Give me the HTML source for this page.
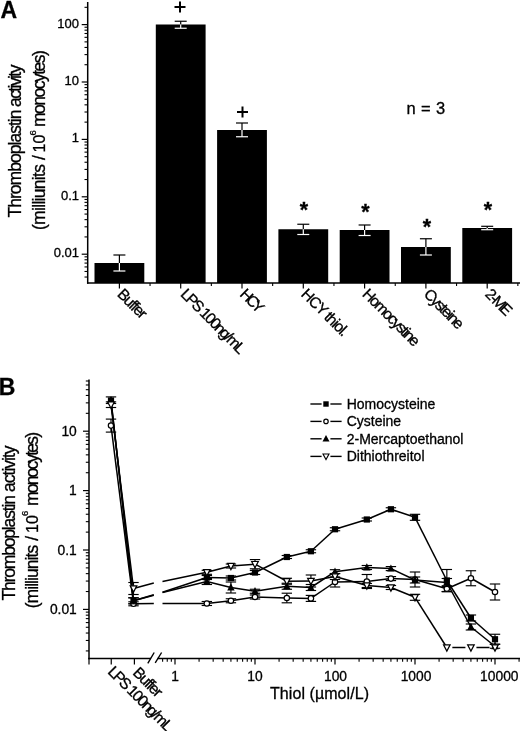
<!DOCTYPE html>
<html><head><meta charset="utf-8"><title>Thromboplastin activity</title>
<style>html,body{margin:0;padding:0;background:#fff}svg{display:block}text{font-family:"Liberation Sans",sans-serif;fill:#000;stroke:#000;stroke-width:0.3px}</style>
</head><body>
<svg width="520" height="731" viewBox="0 0 520 731">
<rect width="520" height="731" fill="#fff"/>
<line x1="87.70" y1="2.00" x2="87.70" y2="283.65" stroke="#000" stroke-width="1.5" />
<line x1="87.05" y1="283.00" x2="520.00" y2="283.00" stroke="#000" stroke-width="1.5" />
<line x1="84.50" y1="277.04" x2="87.70" y2="277.04" stroke="#000" stroke-width="1.1" />
<line x1="84.50" y1="271.48" x2="87.70" y2="271.48" stroke="#000" stroke-width="1.1" />
<line x1="84.50" y1="266.93" x2="87.70" y2="266.93" stroke="#000" stroke-width="1.1" />
<line x1="84.50" y1="263.09" x2="87.70" y2="263.09" stroke="#000" stroke-width="1.1" />
<line x1="84.50" y1="259.76" x2="87.70" y2="259.76" stroke="#000" stroke-width="1.1" />
<line x1="84.50" y1="256.83" x2="87.70" y2="256.83" stroke="#000" stroke-width="1.1" />
<line x1="81.70" y1="254.20" x2="87.70" y2="254.20" stroke="#000" stroke-width="1.2" />
<line x1="84.50" y1="236.92" x2="87.70" y2="236.92" stroke="#000" stroke-width="1.1" />
<line x1="84.50" y1="226.81" x2="87.70" y2="226.81" stroke="#000" stroke-width="1.1" />
<line x1="84.50" y1="219.64" x2="87.70" y2="219.64" stroke="#000" stroke-width="1.1" />
<line x1="84.50" y1="214.08" x2="87.70" y2="214.08" stroke="#000" stroke-width="1.1" />
<line x1="84.50" y1="209.53" x2="87.70" y2="209.53" stroke="#000" stroke-width="1.1" />
<line x1="84.50" y1="205.69" x2="87.70" y2="205.69" stroke="#000" stroke-width="1.1" />
<line x1="84.50" y1="202.36" x2="87.70" y2="202.36" stroke="#000" stroke-width="1.1" />
<line x1="84.50" y1="199.43" x2="87.70" y2="199.43" stroke="#000" stroke-width="1.1" />
<line x1="81.70" y1="196.80" x2="87.70" y2="196.80" stroke="#000" stroke-width="1.2" />
<line x1="84.50" y1="179.52" x2="87.70" y2="179.52" stroke="#000" stroke-width="1.1" />
<line x1="84.50" y1="169.41" x2="87.70" y2="169.41" stroke="#000" stroke-width="1.1" />
<line x1="84.50" y1="162.24" x2="87.70" y2="162.24" stroke="#000" stroke-width="1.1" />
<line x1="84.50" y1="156.68" x2="87.70" y2="156.68" stroke="#000" stroke-width="1.1" />
<line x1="84.50" y1="152.13" x2="87.70" y2="152.13" stroke="#000" stroke-width="1.1" />
<line x1="84.50" y1="148.29" x2="87.70" y2="148.29" stroke="#000" stroke-width="1.1" />
<line x1="84.50" y1="144.96" x2="87.70" y2="144.96" stroke="#000" stroke-width="1.1" />
<line x1="84.50" y1="142.03" x2="87.70" y2="142.03" stroke="#000" stroke-width="1.1" />
<line x1="81.70" y1="139.40" x2="87.70" y2="139.40" stroke="#000" stroke-width="1.2" />
<line x1="84.50" y1="122.12" x2="87.70" y2="122.12" stroke="#000" stroke-width="1.1" />
<line x1="84.50" y1="112.01" x2="87.70" y2="112.01" stroke="#000" stroke-width="1.1" />
<line x1="84.50" y1="104.84" x2="87.70" y2="104.84" stroke="#000" stroke-width="1.1" />
<line x1="84.50" y1="99.28" x2="87.70" y2="99.28" stroke="#000" stroke-width="1.1" />
<line x1="84.50" y1="94.73" x2="87.70" y2="94.73" stroke="#000" stroke-width="1.1" />
<line x1="84.50" y1="90.89" x2="87.70" y2="90.89" stroke="#000" stroke-width="1.1" />
<line x1="84.50" y1="87.56" x2="87.70" y2="87.56" stroke="#000" stroke-width="1.1" />
<line x1="84.50" y1="84.63" x2="87.70" y2="84.63" stroke="#000" stroke-width="1.1" />
<line x1="81.70" y1="82.00" x2="87.70" y2="82.00" stroke="#000" stroke-width="1.2" />
<line x1="84.50" y1="64.72" x2="87.70" y2="64.72" stroke="#000" stroke-width="1.1" />
<line x1="84.50" y1="54.61" x2="87.70" y2="54.61" stroke="#000" stroke-width="1.1" />
<line x1="84.50" y1="47.44" x2="87.70" y2="47.44" stroke="#000" stroke-width="1.1" />
<line x1="84.50" y1="41.88" x2="87.70" y2="41.88" stroke="#000" stroke-width="1.1" />
<line x1="84.50" y1="37.33" x2="87.70" y2="37.33" stroke="#000" stroke-width="1.1" />
<line x1="84.50" y1="33.49" x2="87.70" y2="33.49" stroke="#000" stroke-width="1.1" />
<line x1="84.50" y1="30.16" x2="87.70" y2="30.16" stroke="#000" stroke-width="1.1" />
<line x1="84.50" y1="27.23" x2="87.70" y2="27.23" stroke="#000" stroke-width="1.1" />
<line x1="81.70" y1="24.60" x2="87.70" y2="24.60" stroke="#000" stroke-width="1.2" />
<line x1="84.50" y1="7.32" x2="87.70" y2="7.32" stroke="#000" stroke-width="1.1" />
<text x="79.00" y="27.60" font-size="13" text-anchor="end" >100</text>
<text x="79.00" y="85.00" font-size="13" text-anchor="end" >10</text>
<text x="79.00" y="142.40" font-size="13" text-anchor="end" >1</text>
<text x="79.00" y="199.80" font-size="13" text-anchor="end" >0.1</text>
<text x="79.00" y="257.20" font-size="13" text-anchor="end" >0.01</text>
<rect x="94.50" y="263.00" width="49.8" height="20.00" fill="#000"/>
<line x1="119.40" y1="255.00" x2="119.40" y2="263.00" stroke="#000" stroke-width="1.2" />
<line x1="113.40" y1="255.00" x2="125.40" y2="255.00" stroke="#000" stroke-width="1.2" />
<line x1="119.40" y1="263.00" x2="119.40" y2="271.00" stroke="#fff" stroke-width="1.2" />
<line x1="113.40" y1="271.00" x2="125.40" y2="271.00" stroke="#fff" stroke-width="1.2" />
<line x1="119.40" y1="283.00" x2="119.40" y2="288.50" stroke="#000" stroke-width="1.2" />
<line x1="150.05" y1="283.00" x2="150.05" y2="286.00" stroke="#000" stroke-width="1.1" />
<text x="116.40" y="295.00" font-size="15.5" text-anchor="start" transform="rotate(45 116.40 295.00)" textLength="35" lengthAdjust="spacing" >Buffer</text>
<rect x="155.80" y="24.50" width="49.8" height="258.50" fill="#000"/>
<line x1="180.70" y1="21.25" x2="180.70" y2="24.50" stroke="#000" stroke-width="1.2" />
<line x1="174.70" y1="21.25" x2="186.70" y2="21.25" stroke="#000" stroke-width="1.2" />
<line x1="180.70" y1="24.50" x2="180.70" y2="28.25" stroke="#fff" stroke-width="1.2" />
<line x1="174.70" y1="28.25" x2="186.70" y2="28.25" stroke="#fff" stroke-width="1.2" />
<line x1="180.70" y1="283.00" x2="180.70" y2="288.50" stroke="#000" stroke-width="1.2" />
<line x1="211.35" y1="283.00" x2="211.35" y2="286.00" stroke="#000" stroke-width="1.1" />
<text x="179.70" y="295.00" font-size="15.5" text-anchor="start" transform="rotate(45 179.70 295.00)" textLength="84.5" lengthAdjust="spacing" >LPS 100ng/mL</text>
<rect x="217.10" y="130.00" width="49.8" height="153.00" fill="#000"/>
<line x1="242.00" y1="123.00" x2="242.00" y2="130.00" stroke="#000" stroke-width="1.2" />
<line x1="236.00" y1="123.00" x2="248.00" y2="123.00" stroke="#000" stroke-width="1.2" />
<line x1="242.00" y1="130.00" x2="242.00" y2="136.75" stroke="#fff" stroke-width="1.2" />
<line x1="236.00" y1="136.75" x2="248.00" y2="136.75" stroke="#fff" stroke-width="1.2" />
<line x1="242.00" y1="283.00" x2="242.00" y2="288.50" stroke="#000" stroke-width="1.2" />
<line x1="272.65" y1="283.00" x2="272.65" y2="286.00" stroke="#000" stroke-width="1.1" />
<text x="239.00" y="295.00" font-size="15.5" text-anchor="start" transform="rotate(45 239.00 295.00)" textLength="27" lengthAdjust="spacing" >HCY</text>
<rect x="278.40" y="229.25" width="49.8" height="53.75" fill="#000"/>
<line x1="303.30" y1="224.25" x2="303.30" y2="229.25" stroke="#000" stroke-width="1.2" />
<line x1="297.30" y1="224.25" x2="309.30" y2="224.25" stroke="#000" stroke-width="1.2" />
<line x1="303.30" y1="229.25" x2="303.30" y2="234.50" stroke="#fff" stroke-width="1.2" />
<line x1="297.30" y1="234.50" x2="309.30" y2="234.50" stroke="#fff" stroke-width="1.2" />
<line x1="303.30" y1="283.00" x2="303.30" y2="288.50" stroke="#000" stroke-width="1.2" />
<line x1="333.95" y1="283.00" x2="333.95" y2="286.00" stroke="#000" stroke-width="1.1" />
<text x="300.30" y="295.00" font-size="15.5" text-anchor="start" transform="rotate(45 300.30 295.00)" textLength="60" lengthAdjust="spacing" >HCY thiol.</text>
<rect x="339.70" y="230.00" width="49.8" height="53.00" fill="#000"/>
<line x1="364.60" y1="225.00" x2="364.60" y2="230.00" stroke="#000" stroke-width="1.2" />
<line x1="358.60" y1="225.00" x2="370.60" y2="225.00" stroke="#000" stroke-width="1.2" />
<line x1="364.60" y1="230.00" x2="364.60" y2="235.50" stroke="#fff" stroke-width="1.2" />
<line x1="358.60" y1="235.50" x2="370.60" y2="235.50" stroke="#fff" stroke-width="1.2" />
<line x1="364.60" y1="283.00" x2="364.60" y2="288.50" stroke="#000" stroke-width="1.2" />
<line x1="395.25" y1="283.00" x2="395.25" y2="286.00" stroke="#000" stroke-width="1.1" />
<text x="361.60" y="295.00" font-size="15.5" text-anchor="start" transform="rotate(45 361.60 295.00)" textLength="74" lengthAdjust="spacing" >Homocystine</text>
<rect x="401.00" y="247.00" width="49.8" height="36.00" fill="#000"/>
<line x1="425.90" y1="238.75" x2="425.90" y2="247.00" stroke="#000" stroke-width="1.2" />
<line x1="419.90" y1="238.75" x2="431.90" y2="238.75" stroke="#000" stroke-width="1.2" />
<line x1="425.90" y1="247.00" x2="425.90" y2="255.00" stroke="#fff" stroke-width="1.2" />
<line x1="419.90" y1="255.00" x2="431.90" y2="255.00" stroke="#fff" stroke-width="1.2" />
<line x1="425.90" y1="283.00" x2="425.90" y2="288.50" stroke="#000" stroke-width="1.2" />
<line x1="456.55" y1="283.00" x2="456.55" y2="286.00" stroke="#000" stroke-width="1.1" />
<text x="422.90" y="295.00" font-size="15.5" text-anchor="start" transform="rotate(45 422.90 295.00)" textLength="49.5" lengthAdjust="spacing" >Cysteine</text>
<rect x="462.30" y="228.00" width="49.8" height="55.00" fill="#000"/>
<line x1="487.20" y1="226.30" x2="487.20" y2="228.00" stroke="#000" stroke-width="1.2" />
<line x1="481.20" y1="226.30" x2="493.20" y2="226.30" stroke="#000" stroke-width="1.2" />
<line x1="487.20" y1="228.00" x2="487.20" y2="229.70" stroke="#fff" stroke-width="1.2" />
<line x1="481.20" y1="229.70" x2="493.20" y2="229.70" stroke="#fff" stroke-width="1.2" />
<line x1="487.20" y1="283.00" x2="487.20" y2="288.50" stroke="#000" stroke-width="1.2" />
<line x1="517.85" y1="283.00" x2="517.85" y2="286.00" stroke="#000" stroke-width="1.1" />
<text x="484.20" y="295.00" font-size="15.5" text-anchor="start" transform="rotate(45 484.20 295.00)" textLength="31" lengthAdjust="spacing" >2-ME</text>
<line x1="174.50" y1="7.00" x2="185.50" y2="7.00" stroke="#000" stroke-width="2" />
<line x1="180.00" y1="1.50" x2="180.00" y2="12.50" stroke="#000" stroke-width="2" />
<line x1="237.00" y1="112.00" x2="248.00" y2="112.00" stroke="#000" stroke-width="2" />
<line x1="242.50" y1="106.50" x2="242.50" y2="117.50" stroke="#000" stroke-width="2" />
<text x="304.00" y="216.70" font-size="21.5" text-anchor="middle" font-weight="bold" >*</text>
<text x="365.50" y="218.70" font-size="21.5" text-anchor="middle" font-weight="bold" >*</text>
<text x="427.00" y="233.70" font-size="21.5" text-anchor="middle" font-weight="bold" >*</text>
<text x="488.00" y="216.70" font-size="21.5" text-anchor="middle" font-weight="bold" >*</text>
<text x="406.50" y="114.40" font-size="16.5" text-anchor="start" textLength="38.6" lengthAdjust="spacing" >n = 3</text>
<text x="0.50" y="17.50" font-size="23" text-anchor="start" font-weight="bold" >A</text>
<text x="20.60" y="217.50" font-size="17.5" text-anchor="start" transform="rotate(-90 20.60 217.50)" textLength="108" lengthAdjust="spacing" >Thromboplastin</text>
<text x="20.60" y="107.00" font-size="17.5" text-anchor="start" transform="rotate(-90 20.60 107.00)" textLength="42.4" lengthAdjust="spacing" >activity</text>
<text x="45.00" y="230.00" font-size="17.5" text-anchor="start" transform="rotate(-90 45.00 230.00)" textLength="66" lengthAdjust="spacing" >(milliunits</text>
<text x="45.00" y="160.00" font-size="17.5" text-anchor="start" transform="rotate(-90 45.00 160.00)" >/</text>
<text x="45.00" y="152.50" font-size="16" text-anchor="start" transform="rotate(-90 45.00 152.50)" >10</text>
<text x="35.70" y="135.40" font-size="9.5" text-anchor="start" transform="rotate(-90 35.70 135.40)" >6</text>
<text x="45.00" y="127.00" font-size="17.5" text-anchor="start" transform="rotate(-90 45.00 127.00)" textLength="76.8" lengthAdjust="spacing" >monocytes)</text>
<line x1="89.00" y1="379.50" x2="89.00" y2="659.15" stroke="#000" stroke-width="1.5" />
<line x1="88.25" y1="658.50" x2="151.00" y2="658.50" stroke="#000" stroke-width="1.5" />
<line x1="157.50" y1="658.50" x2="520.00" y2="658.50" stroke="#000" stroke-width="1.5" />
<line x1="147.80" y1="663.30" x2="154.20" y2="652.50" stroke="#000" stroke-width="1.4" />
<line x1="155.20" y1="662.80" x2="161.60" y2="652.50" stroke="#000" stroke-width="1.4" />
<line x1="85.80" y1="650.92" x2="89.00" y2="650.92" stroke="#000" stroke-width="1.1" />
<line x1="85.80" y1="640.46" x2="89.00" y2="640.46" stroke="#000" stroke-width="1.1" />
<line x1="85.80" y1="633.04" x2="89.00" y2="633.04" stroke="#000" stroke-width="1.1" />
<line x1="85.80" y1="627.28" x2="89.00" y2="627.28" stroke="#000" stroke-width="1.1" />
<line x1="85.80" y1="622.58" x2="89.00" y2="622.58" stroke="#000" stroke-width="1.1" />
<line x1="85.80" y1="618.60" x2="89.00" y2="618.60" stroke="#000" stroke-width="1.1" />
<line x1="85.80" y1="615.16" x2="89.00" y2="615.16" stroke="#000" stroke-width="1.1" />
<line x1="85.80" y1="612.12" x2="89.00" y2="612.12" stroke="#000" stroke-width="1.1" />
<line x1="83.00" y1="609.40" x2="89.00" y2="609.40" stroke="#000" stroke-width="1.2" />
<line x1="85.80" y1="591.52" x2="89.00" y2="591.52" stroke="#000" stroke-width="1.1" />
<line x1="85.80" y1="581.06" x2="89.00" y2="581.06" stroke="#000" stroke-width="1.1" />
<line x1="85.80" y1="573.64" x2="89.00" y2="573.64" stroke="#000" stroke-width="1.1" />
<line x1="85.80" y1="567.88" x2="89.00" y2="567.88" stroke="#000" stroke-width="1.1" />
<line x1="85.80" y1="563.18" x2="89.00" y2="563.18" stroke="#000" stroke-width="1.1" />
<line x1="85.80" y1="559.20" x2="89.00" y2="559.20" stroke="#000" stroke-width="1.1" />
<line x1="85.80" y1="555.76" x2="89.00" y2="555.76" stroke="#000" stroke-width="1.1" />
<line x1="85.80" y1="552.72" x2="89.00" y2="552.72" stroke="#000" stroke-width="1.1" />
<line x1="83.00" y1="550.00" x2="89.00" y2="550.00" stroke="#000" stroke-width="1.2" />
<line x1="85.80" y1="532.12" x2="89.00" y2="532.12" stroke="#000" stroke-width="1.1" />
<line x1="85.80" y1="521.66" x2="89.00" y2="521.66" stroke="#000" stroke-width="1.1" />
<line x1="85.80" y1="514.24" x2="89.00" y2="514.24" stroke="#000" stroke-width="1.1" />
<line x1="85.80" y1="508.48" x2="89.00" y2="508.48" stroke="#000" stroke-width="1.1" />
<line x1="85.80" y1="503.78" x2="89.00" y2="503.78" stroke="#000" stroke-width="1.1" />
<line x1="85.80" y1="499.80" x2="89.00" y2="499.80" stroke="#000" stroke-width="1.1" />
<line x1="85.80" y1="496.36" x2="89.00" y2="496.36" stroke="#000" stroke-width="1.1" />
<line x1="85.80" y1="493.32" x2="89.00" y2="493.32" stroke="#000" stroke-width="1.1" />
<line x1="83.00" y1="490.60" x2="89.00" y2="490.60" stroke="#000" stroke-width="1.2" />
<line x1="85.80" y1="472.72" x2="89.00" y2="472.72" stroke="#000" stroke-width="1.1" />
<line x1="85.80" y1="462.26" x2="89.00" y2="462.26" stroke="#000" stroke-width="1.1" />
<line x1="85.80" y1="454.84" x2="89.00" y2="454.84" stroke="#000" stroke-width="1.1" />
<line x1="85.80" y1="449.08" x2="89.00" y2="449.08" stroke="#000" stroke-width="1.1" />
<line x1="85.80" y1="444.38" x2="89.00" y2="444.38" stroke="#000" stroke-width="1.1" />
<line x1="85.80" y1="440.40" x2="89.00" y2="440.40" stroke="#000" stroke-width="1.1" />
<line x1="85.80" y1="436.96" x2="89.00" y2="436.96" stroke="#000" stroke-width="1.1" />
<line x1="85.80" y1="433.92" x2="89.00" y2="433.92" stroke="#000" stroke-width="1.1" />
<line x1="83.00" y1="431.20" x2="89.00" y2="431.20" stroke="#000" stroke-width="1.2" />
<line x1="85.80" y1="413.32" x2="89.00" y2="413.32" stroke="#000" stroke-width="1.1" />
<line x1="85.80" y1="402.86" x2="89.00" y2="402.86" stroke="#000" stroke-width="1.1" />
<line x1="85.80" y1="395.44" x2="89.00" y2="395.44" stroke="#000" stroke-width="1.1" />
<line x1="85.80" y1="389.68" x2="89.00" y2="389.68" stroke="#000" stroke-width="1.1" />
<line x1="85.80" y1="384.98" x2="89.00" y2="384.98" stroke="#000" stroke-width="1.1" />
<line x1="85.80" y1="381.00" x2="89.00" y2="381.00" stroke="#000" stroke-width="1.1" />
<text x="76.80" y="435.90" font-size="13.8" text-anchor="end" >10</text>
<text x="76.80" y="495.30" font-size="13.8" text-anchor="end" >1</text>
<text x="76.80" y="554.70" font-size="13.8" text-anchor="end" >0.1</text>
<text x="76.80" y="614.10" font-size="13.8" text-anchor="end" >0.01</text>
<line x1="89.00" y1="658.50" x2="89.00" y2="664.50" stroke="#000" stroke-width="1.2" />
<line x1="111.25" y1="658.50" x2="111.25" y2="664.50" stroke="#000" stroke-width="1.2" />
<line x1="134.40" y1="658.50" x2="134.40" y2="664.50" stroke="#000" stroke-width="1.2" />
<line x1="162.61" y1="658.50" x2="162.61" y2="661.70" stroke="#000" stroke-width="1.1" />
<line x1="167.25" y1="658.50" x2="167.25" y2="661.70" stroke="#000" stroke-width="1.1" />
<line x1="171.34" y1="658.50" x2="171.34" y2="661.70" stroke="#000" stroke-width="1.1" />
<line x1="175.00" y1="658.50" x2="175.00" y2="664.50" stroke="#000" stroke-width="1.2" />
<line x1="199.08" y1="658.50" x2="199.08" y2="661.70" stroke="#000" stroke-width="1.1" />
<line x1="213.17" y1="658.50" x2="213.17" y2="661.70" stroke="#000" stroke-width="1.1" />
<line x1="223.16" y1="658.50" x2="223.16" y2="661.70" stroke="#000" stroke-width="1.1" />
<line x1="230.92" y1="658.50" x2="230.92" y2="661.70" stroke="#000" stroke-width="1.1" />
<line x1="237.25" y1="658.50" x2="237.25" y2="661.70" stroke="#000" stroke-width="1.1" />
<line x1="242.61" y1="658.50" x2="242.61" y2="661.70" stroke="#000" stroke-width="1.1" />
<line x1="247.25" y1="658.50" x2="247.25" y2="661.70" stroke="#000" stroke-width="1.1" />
<line x1="251.34" y1="658.50" x2="251.34" y2="661.70" stroke="#000" stroke-width="1.1" />
<line x1="255.00" y1="658.50" x2="255.00" y2="664.50" stroke="#000" stroke-width="1.2" />
<line x1="279.08" y1="658.50" x2="279.08" y2="661.70" stroke="#000" stroke-width="1.1" />
<line x1="293.17" y1="658.50" x2="293.17" y2="661.70" stroke="#000" stroke-width="1.1" />
<line x1="303.16" y1="658.50" x2="303.16" y2="661.70" stroke="#000" stroke-width="1.1" />
<line x1="310.92" y1="658.50" x2="310.92" y2="661.70" stroke="#000" stroke-width="1.1" />
<line x1="317.25" y1="658.50" x2="317.25" y2="661.70" stroke="#000" stroke-width="1.1" />
<line x1="322.61" y1="658.50" x2="322.61" y2="661.70" stroke="#000" stroke-width="1.1" />
<line x1="327.25" y1="658.50" x2="327.25" y2="661.70" stroke="#000" stroke-width="1.1" />
<line x1="331.34" y1="658.50" x2="331.34" y2="661.70" stroke="#000" stroke-width="1.1" />
<line x1="335.00" y1="658.50" x2="335.00" y2="664.50" stroke="#000" stroke-width="1.2" />
<line x1="359.08" y1="658.50" x2="359.08" y2="661.70" stroke="#000" stroke-width="1.1" />
<line x1="373.17" y1="658.50" x2="373.17" y2="661.70" stroke="#000" stroke-width="1.1" />
<line x1="383.16" y1="658.50" x2="383.16" y2="661.70" stroke="#000" stroke-width="1.1" />
<line x1="390.92" y1="658.50" x2="390.92" y2="661.70" stroke="#000" stroke-width="1.1" />
<line x1="397.25" y1="658.50" x2="397.25" y2="661.70" stroke="#000" stroke-width="1.1" />
<line x1="402.61" y1="658.50" x2="402.61" y2="661.70" stroke="#000" stroke-width="1.1" />
<line x1="407.25" y1="658.50" x2="407.25" y2="661.70" stroke="#000" stroke-width="1.1" />
<line x1="411.34" y1="658.50" x2="411.34" y2="661.70" stroke="#000" stroke-width="1.1" />
<line x1="415.00" y1="658.50" x2="415.00" y2="664.50" stroke="#000" stroke-width="1.2" />
<line x1="439.08" y1="658.50" x2="439.08" y2="661.70" stroke="#000" stroke-width="1.1" />
<line x1="453.17" y1="658.50" x2="453.17" y2="661.70" stroke="#000" stroke-width="1.1" />
<line x1="463.16" y1="658.50" x2="463.16" y2="661.70" stroke="#000" stroke-width="1.1" />
<line x1="470.92" y1="658.50" x2="470.92" y2="661.70" stroke="#000" stroke-width="1.1" />
<line x1="477.25" y1="658.50" x2="477.25" y2="661.70" stroke="#000" stroke-width="1.1" />
<line x1="482.61" y1="658.50" x2="482.61" y2="661.70" stroke="#000" stroke-width="1.1" />
<line x1="487.25" y1="658.50" x2="487.25" y2="661.70" stroke="#000" stroke-width="1.1" />
<line x1="491.34" y1="658.50" x2="491.34" y2="661.70" stroke="#000" stroke-width="1.1" />
<line x1="495.00" y1="658.50" x2="495.00" y2="664.50" stroke="#000" stroke-width="1.2" />
<line x1="519.08" y1="658.50" x2="519.08" y2="661.70" stroke="#000" stroke-width="1.1" />
<text x="175.00" y="681.30" font-size="13.8" text-anchor="middle" >1</text>
<text x="255.00" y="681.30" font-size="13.8" text-anchor="middle" >10</text>
<text x="335.50" y="681.30" font-size="13.8" text-anchor="middle" >100</text>
<text x="416.00" y="681.30" font-size="13.8" text-anchor="middle" >1000</text>
<text x="499.30" y="681.30" font-size="13.8" text-anchor="middle" >10000</text>
<text x="270.00" y="699.00" font-size="16" text-anchor="start" textLength="99" lengthAdjust="spacing" >Thiol (µmol/L)</text>
<text x="107.00" y="672.50" font-size="15.5" text-anchor="start" transform="rotate(45 107.00 672.50)" textLength="84.5" lengthAdjust="spacing" >LPS 100ng/mL</text>
<text x="132.00" y="673.50" font-size="15.5" text-anchor="start" transform="rotate(45 132.00 673.50)" textLength="35" lengthAdjust="spacing" >Buffer</text>
<text x="-1.20" y="395.00" font-size="23" text-anchor="start" font-weight="bold" >B</text>
<text x="15.00" y="600.60" font-size="17.5" text-anchor="start" transform="rotate(-90 15.00 600.60)" textLength="105.5" lengthAdjust="spacing" >Thromboplastin</text>
<text x="15.00" y="492.00" font-size="17.5" text-anchor="start" transform="rotate(-90 15.00 492.00)" textLength="46.6" lengthAdjust="spacing" >activity</text>
<text x="37.60" y="608.30" font-size="17.5" text-anchor="start" transform="rotate(-90 37.60 608.30)" textLength="63.5" lengthAdjust="spacing" >(milliunits</text>
<text x="37.60" y="540.80" font-size="17.5" text-anchor="start" transform="rotate(-90 37.60 540.80)" >/</text>
<text x="37.60" y="533.00" font-size="16" text-anchor="start" transform="rotate(-90 37.60 533.00)" >10</text>
<text x="28.30" y="515.90" font-size="9.5" text-anchor="start" transform="rotate(-90 28.30 515.90)" >6</text>
<text x="37.60" y="506.00" font-size="17.5" text-anchor="start" transform="rotate(-90 37.60 506.00)" textLength="74" lengthAdjust="spacing" >monocytes)</text>
<line x1="111.00" y1="400.50" x2="133.50" y2="600.80" stroke="#000" stroke-width="1.5" />
<line x1="133.50" y1="600.80" x2="153.80" y2="594.80" stroke="#000" stroke-width="1.5" />
<line x1="162.50" y1="592.20" x2="206.84" y2="577.50" stroke="#000" stroke-width="1.5" />
<line x1="206.84" y1="577.50" x2="230.92" y2="578.00" stroke="#000" stroke-width="1.5" />
<line x1="230.92" y1="578.00" x2="255.00" y2="572.50" stroke="#000" stroke-width="1.5" />
<line x1="255.00" y1="572.50" x2="286.84" y2="557.00" stroke="#000" stroke-width="1.5" />
<line x1="286.84" y1="557.00" x2="310.92" y2="551.25" stroke="#000" stroke-width="1.5" />
<line x1="310.92" y1="551.25" x2="335.00" y2="529.25" stroke="#000" stroke-width="1.5" />
<line x1="335.00" y1="529.25" x2="366.84" y2="519.50" stroke="#000" stroke-width="1.5" />
<line x1="366.84" y1="519.50" x2="390.92" y2="509.25" stroke="#000" stroke-width="1.5" />
<line x1="390.92" y1="509.25" x2="415.00" y2="517.30" stroke="#000" stroke-width="1.5" />
<line x1="415.00" y1="517.30" x2="446.84" y2="580.50" stroke="#000" stroke-width="1.5" />
<line x1="446.84" y1="580.50" x2="470.92" y2="618.00" stroke="#000" stroke-width="1.5" />
<line x1="470.92" y1="618.00" x2="495.00" y2="639.25" stroke="#000" stroke-width="1.5" />
<line x1="133.50" y1="597.80" x2="133.50" y2="603.80" stroke="#000" stroke-width="1.15" />
<line x1="128.30" y1="597.80" x2="138.70" y2="597.80" stroke="#000" stroke-width="1.15" />
<line x1="128.30" y1="603.80" x2="138.70" y2="603.80" stroke="#000" stroke-width="1.15" />
<line x1="206.84" y1="575.50" x2="206.84" y2="579.50" stroke="#000" stroke-width="1.15" />
<line x1="201.64" y1="575.50" x2="212.04" y2="575.50" stroke="#000" stroke-width="1.15" />
<line x1="201.64" y1="579.50" x2="212.04" y2="579.50" stroke="#000" stroke-width="1.15" />
<line x1="230.92" y1="576.00" x2="230.92" y2="580.00" stroke="#000" stroke-width="1.15" />
<line x1="225.72" y1="576.00" x2="236.12" y2="576.00" stroke="#000" stroke-width="1.15" />
<line x1="225.72" y1="580.00" x2="236.12" y2="580.00" stroke="#000" stroke-width="1.15" />
<line x1="255.00" y1="570.50" x2="255.00" y2="574.50" stroke="#000" stroke-width="1.15" />
<line x1="249.80" y1="570.50" x2="260.20" y2="570.50" stroke="#000" stroke-width="1.15" />
<line x1="249.80" y1="574.50" x2="260.20" y2="574.50" stroke="#000" stroke-width="1.15" />
<line x1="286.84" y1="555.50" x2="286.84" y2="558.50" stroke="#000" stroke-width="1.15" />
<line x1="281.64" y1="555.50" x2="292.04" y2="555.50" stroke="#000" stroke-width="1.15" />
<line x1="281.64" y1="558.50" x2="292.04" y2="558.50" stroke="#000" stroke-width="1.15" />
<line x1="310.92" y1="549.75" x2="310.92" y2="552.75" stroke="#000" stroke-width="1.15" />
<line x1="305.72" y1="549.75" x2="316.12" y2="549.75" stroke="#000" stroke-width="1.15" />
<line x1="305.72" y1="552.75" x2="316.12" y2="552.75" stroke="#000" stroke-width="1.15" />
<line x1="335.00" y1="527.75" x2="335.00" y2="530.75" stroke="#000" stroke-width="1.15" />
<line x1="329.80" y1="527.75" x2="340.20" y2="527.75" stroke="#000" stroke-width="1.15" />
<line x1="329.80" y1="530.75" x2="340.20" y2="530.75" stroke="#000" stroke-width="1.15" />
<line x1="366.84" y1="518.00" x2="366.84" y2="521.00" stroke="#000" stroke-width="1.15" />
<line x1="361.64" y1="518.00" x2="372.04" y2="518.00" stroke="#000" stroke-width="1.15" />
<line x1="361.64" y1="521.00" x2="372.04" y2="521.00" stroke="#000" stroke-width="1.15" />
<line x1="390.92" y1="507.75" x2="390.92" y2="510.75" stroke="#000" stroke-width="1.15" />
<line x1="385.72" y1="507.75" x2="396.12" y2="507.75" stroke="#000" stroke-width="1.15" />
<line x1="385.72" y1="510.75" x2="396.12" y2="510.75" stroke="#000" stroke-width="1.15" />
<line x1="415.00" y1="514.30" x2="415.00" y2="520.30" stroke="#000" stroke-width="1.15" />
<line x1="409.80" y1="514.30" x2="420.20" y2="514.30" stroke="#000" stroke-width="1.15" />
<line x1="409.80" y1="520.30" x2="420.20" y2="520.30" stroke="#000" stroke-width="1.15" />
<line x1="446.84" y1="569.50" x2="446.84" y2="591.50" stroke="#000" stroke-width="1.15" />
<line x1="441.64" y1="569.50" x2="452.04" y2="569.50" stroke="#000" stroke-width="1.15" />
<line x1="441.64" y1="591.50" x2="452.04" y2="591.50" stroke="#000" stroke-width="1.15" />
<line x1="470.92" y1="615.00" x2="470.92" y2="621.00" stroke="#000" stroke-width="1.15" />
<line x1="465.72" y1="615.00" x2="476.12" y2="615.00" stroke="#000" stroke-width="1.15" />
<line x1="465.72" y1="621.00" x2="476.12" y2="621.00" stroke="#000" stroke-width="1.15" />
<line x1="495.00" y1="634.25" x2="495.00" y2="644.25" stroke="#000" stroke-width="1.15" />
<line x1="489.80" y1="634.25" x2="500.20" y2="634.25" stroke="#000" stroke-width="1.15" />
<line x1="489.80" y1="644.25" x2="500.20" y2="644.25" stroke="#000" stroke-width="1.15" />
<rect x="107.90" y="397.40" width="6.2" height="6.2" fill="#000"/>
<rect x="130.40" y="597.70" width="6.2" height="6.2" fill="#000"/>
<rect x="203.74" y="574.40" width="6.2" height="6.2" fill="#000"/>
<rect x="227.82" y="574.90" width="6.2" height="6.2" fill="#000"/>
<rect x="251.90" y="569.40" width="6.2" height="6.2" fill="#000"/>
<rect x="283.74" y="553.90" width="6.2" height="6.2" fill="#000"/>
<rect x="307.82" y="548.15" width="6.2" height="6.2" fill="#000"/>
<rect x="331.90" y="526.15" width="6.2" height="6.2" fill="#000"/>
<rect x="363.74" y="516.40" width="6.2" height="6.2" fill="#000"/>
<rect x="387.82" y="506.15" width="6.2" height="6.2" fill="#000"/>
<rect x="411.90" y="514.20" width="6.2" height="6.2" fill="#000"/>
<rect x="443.74" y="577.40" width="6.2" height="6.2" fill="#000"/>
<rect x="467.82" y="614.90" width="6.2" height="6.2" fill="#000"/>
<rect x="491.90" y="636.15" width="6.2" height="6.2" fill="#000"/>
<line x1="111.00" y1="425.60" x2="133.50" y2="603.80" stroke="#000" stroke-width="1.5" />
<line x1="133.50" y1="603.80" x2="153.80" y2="603.50" stroke="#000" stroke-width="1.5" />
<line x1="162.50" y1="603.40" x2="206.84" y2="603.50" stroke="#000" stroke-width="1.5" />
<line x1="206.84" y1="603.50" x2="230.92" y2="600.75" stroke="#000" stroke-width="1.5" />
<line x1="230.92" y1="600.75" x2="255.00" y2="597.00" stroke="#000" stroke-width="1.5" />
<line x1="255.00" y1="597.00" x2="286.84" y2="598.00" stroke="#000" stroke-width="1.5" />
<line x1="286.84" y1="598.00" x2="310.92" y2="598.40" stroke="#000" stroke-width="1.5" />
<line x1="310.92" y1="598.40" x2="335.00" y2="582.00" stroke="#000" stroke-width="1.5" />
<line x1="335.00" y1="582.00" x2="366.84" y2="581.50" stroke="#000" stroke-width="1.5" />
<line x1="366.84" y1="581.50" x2="390.92" y2="578.60" stroke="#000" stroke-width="1.5" />
<line x1="390.92" y1="578.60" x2="415.00" y2="579.50" stroke="#000" stroke-width="1.5" />
<line x1="415.00" y1="579.50" x2="446.84" y2="588.75" stroke="#000" stroke-width="1.5" />
<line x1="446.84" y1="588.75" x2="470.92" y2="578.25" stroke="#000" stroke-width="1.5" />
<line x1="470.92" y1="578.25" x2="495.00" y2="592.00" stroke="#000" stroke-width="1.5" />
<line x1="111.00" y1="419.10" x2="111.00" y2="432.10" stroke="#000" stroke-width="1.15" />
<line x1="105.80" y1="419.10" x2="116.20" y2="419.10" stroke="#000" stroke-width="1.15" />
<line x1="105.80" y1="432.10" x2="116.20" y2="432.10" stroke="#000" stroke-width="1.15" />
<line x1="133.50" y1="601.80" x2="133.50" y2="605.80" stroke="#000" stroke-width="1.15" />
<line x1="128.30" y1="601.80" x2="138.70" y2="601.80" stroke="#000" stroke-width="1.15" />
<line x1="128.30" y1="605.80" x2="138.70" y2="605.80" stroke="#000" stroke-width="1.15" />
<line x1="206.84" y1="601.50" x2="206.84" y2="605.50" stroke="#000" stroke-width="1.15" />
<line x1="201.64" y1="601.50" x2="212.04" y2="601.50" stroke="#000" stroke-width="1.15" />
<line x1="201.64" y1="605.50" x2="212.04" y2="605.50" stroke="#000" stroke-width="1.15" />
<line x1="230.92" y1="598.75" x2="230.92" y2="602.75" stroke="#000" stroke-width="1.15" />
<line x1="225.72" y1="598.75" x2="236.12" y2="598.75" stroke="#000" stroke-width="1.15" />
<line x1="225.72" y1="602.75" x2="236.12" y2="602.75" stroke="#000" stroke-width="1.15" />
<line x1="255.00" y1="595.00" x2="255.00" y2="599.00" stroke="#000" stroke-width="1.15" />
<line x1="249.80" y1="595.00" x2="260.20" y2="595.00" stroke="#000" stroke-width="1.15" />
<line x1="249.80" y1="599.00" x2="260.20" y2="599.00" stroke="#000" stroke-width="1.15" />
<line x1="286.84" y1="593.20" x2="286.84" y2="602.80" stroke="#000" stroke-width="1.15" />
<line x1="281.64" y1="593.20" x2="292.04" y2="593.20" stroke="#000" stroke-width="1.15" />
<line x1="281.64" y1="602.80" x2="292.04" y2="602.80" stroke="#000" stroke-width="1.15" />
<line x1="310.92" y1="595.40" x2="310.92" y2="601.40" stroke="#000" stroke-width="1.15" />
<line x1="305.72" y1="595.40" x2="316.12" y2="595.40" stroke="#000" stroke-width="1.15" />
<line x1="305.72" y1="601.40" x2="316.12" y2="601.40" stroke="#000" stroke-width="1.15" />
<line x1="335.00" y1="577.00" x2="335.00" y2="587.00" stroke="#000" stroke-width="1.15" />
<line x1="329.80" y1="577.00" x2="340.20" y2="577.00" stroke="#000" stroke-width="1.15" />
<line x1="329.80" y1="587.00" x2="340.20" y2="587.00" stroke="#000" stroke-width="1.15" />
<line x1="366.84" y1="574.50" x2="366.84" y2="588.50" stroke="#000" stroke-width="1.15" />
<line x1="361.64" y1="574.50" x2="372.04" y2="574.50" stroke="#000" stroke-width="1.15" />
<line x1="361.64" y1="588.50" x2="372.04" y2="588.50" stroke="#000" stroke-width="1.15" />
<line x1="390.92" y1="576.60" x2="390.92" y2="580.60" stroke="#000" stroke-width="1.15" />
<line x1="385.72" y1="576.60" x2="396.12" y2="576.60" stroke="#000" stroke-width="1.15" />
<line x1="385.72" y1="580.60" x2="396.12" y2="580.60" stroke="#000" stroke-width="1.15" />
<line x1="415.00" y1="572.00" x2="415.00" y2="587.00" stroke="#000" stroke-width="1.15" />
<line x1="409.80" y1="572.00" x2="420.20" y2="572.00" stroke="#000" stroke-width="1.15" />
<line x1="409.80" y1="587.00" x2="420.20" y2="587.00" stroke="#000" stroke-width="1.15" />
<line x1="446.84" y1="585.75" x2="446.84" y2="591.75" stroke="#000" stroke-width="1.15" />
<line x1="441.64" y1="585.75" x2="452.04" y2="585.75" stroke="#000" stroke-width="1.15" />
<line x1="441.64" y1="591.75" x2="452.04" y2="591.75" stroke="#000" stroke-width="1.15" />
<line x1="470.92" y1="570.75" x2="470.92" y2="585.75" stroke="#000" stroke-width="1.15" />
<line x1="465.72" y1="570.75" x2="476.12" y2="570.75" stroke="#000" stroke-width="1.15" />
<line x1="465.72" y1="585.75" x2="476.12" y2="585.75" stroke="#000" stroke-width="1.15" />
<line x1="495.00" y1="584.00" x2="495.00" y2="600.00" stroke="#000" stroke-width="1.15" />
<line x1="489.80" y1="584.00" x2="500.20" y2="584.00" stroke="#000" stroke-width="1.15" />
<line x1="489.80" y1="600.00" x2="500.20" y2="600.00" stroke="#000" stroke-width="1.15" />
<circle cx="111.00" cy="425.60" r="2.7" fill="#fff" stroke="#000" stroke-width="1.2"/>
<circle cx="133.50" cy="603.80" r="2.7" fill="#fff" stroke="#000" stroke-width="1.2"/>
<circle cx="206.84" cy="603.50" r="2.7" fill="#fff" stroke="#000" stroke-width="1.2"/>
<circle cx="230.92" cy="600.75" r="2.7" fill="#fff" stroke="#000" stroke-width="1.2"/>
<circle cx="255.00" cy="597.00" r="2.7" fill="#fff" stroke="#000" stroke-width="1.2"/>
<circle cx="286.84" cy="598.00" r="2.7" fill="#fff" stroke="#000" stroke-width="1.2"/>
<circle cx="310.92" cy="598.40" r="2.7" fill="#fff" stroke="#000" stroke-width="1.2"/>
<circle cx="335.00" cy="582.00" r="2.7" fill="#fff" stroke="#000" stroke-width="1.2"/>
<circle cx="366.84" cy="581.50" r="2.7" fill="#fff" stroke="#000" stroke-width="1.2"/>
<circle cx="390.92" cy="578.60" r="2.7" fill="#fff" stroke="#000" stroke-width="1.2"/>
<circle cx="415.00" cy="579.50" r="2.7" fill="#fff" stroke="#000" stroke-width="1.2"/>
<circle cx="446.84" cy="588.75" r="2.7" fill="#fff" stroke="#000" stroke-width="1.2"/>
<circle cx="470.92" cy="578.25" r="2.7" fill="#fff" stroke="#000" stroke-width="1.2"/>
<circle cx="495.00" cy="592.00" r="2.7" fill="#fff" stroke="#000" stroke-width="1.2"/>
<line x1="111.00" y1="400.20" x2="133.50" y2="600.80" stroke="#000" stroke-width="1.5" />
<line x1="133.50" y1="600.80" x2="153.80" y2="595.20" stroke="#000" stroke-width="1.5" />
<line x1="162.50" y1="592.60" x2="206.84" y2="581.50" stroke="#000" stroke-width="1.5" />
<line x1="206.84" y1="581.50" x2="230.92" y2="587.50" stroke="#000" stroke-width="1.5" />
<line x1="230.92" y1="587.50" x2="255.00" y2="591.25" stroke="#000" stroke-width="1.5" />
<line x1="255.00" y1="591.25" x2="286.84" y2="586.25" stroke="#000" stroke-width="1.5" />
<line x1="286.84" y1="586.25" x2="310.92" y2="587.50" stroke="#000" stroke-width="1.5" />
<line x1="310.92" y1="587.50" x2="335.00" y2="571.70" stroke="#000" stroke-width="1.5" />
<line x1="335.00" y1="571.70" x2="366.84" y2="567.50" stroke="#000" stroke-width="1.5" />
<line x1="366.84" y1="567.50" x2="390.92" y2="568.60" stroke="#000" stroke-width="1.5" />
<line x1="390.92" y1="568.60" x2="415.00" y2="580.00" stroke="#000" stroke-width="1.5" />
<line x1="415.00" y1="580.00" x2="446.84" y2="582.50" stroke="#000" stroke-width="1.5" />
<line x1="446.84" y1="582.50" x2="470.92" y2="627.00" stroke="#000" stroke-width="1.5" />
<line x1="470.92" y1="627.00" x2="495.00" y2="646.25" stroke="#000" stroke-width="1.5" />
<line x1="111.00" y1="396.90" x2="111.00" y2="403.50" stroke="#000" stroke-width="1.15" />
<line x1="105.80" y1="396.90" x2="116.20" y2="396.90" stroke="#000" stroke-width="1.15" />
<line x1="105.80" y1="403.50" x2="116.20" y2="403.50" stroke="#000" stroke-width="1.15" />
<line x1="133.50" y1="597.80" x2="133.50" y2="603.80" stroke="#000" stroke-width="1.15" />
<line x1="128.30" y1="597.80" x2="138.70" y2="597.80" stroke="#000" stroke-width="1.15" />
<line x1="128.30" y1="603.80" x2="138.70" y2="603.80" stroke="#000" stroke-width="1.15" />
<line x1="206.84" y1="578.50" x2="206.84" y2="584.50" stroke="#000" stroke-width="1.15" />
<line x1="201.64" y1="578.50" x2="212.04" y2="578.50" stroke="#000" stroke-width="1.15" />
<line x1="201.64" y1="584.50" x2="212.04" y2="584.50" stroke="#000" stroke-width="1.15" />
<line x1="230.92" y1="582.00" x2="230.92" y2="593.00" stroke="#000" stroke-width="1.15" />
<line x1="225.72" y1="582.00" x2="236.12" y2="582.00" stroke="#000" stroke-width="1.15" />
<line x1="225.72" y1="593.00" x2="236.12" y2="593.00" stroke="#000" stroke-width="1.15" />
<line x1="255.00" y1="589.25" x2="255.00" y2="593.25" stroke="#000" stroke-width="1.15" />
<line x1="249.80" y1="589.25" x2="260.20" y2="589.25" stroke="#000" stroke-width="1.15" />
<line x1="249.80" y1="593.25" x2="260.20" y2="593.25" stroke="#000" stroke-width="1.15" />
<line x1="286.84" y1="583.25" x2="286.84" y2="589.25" stroke="#000" stroke-width="1.15" />
<line x1="281.64" y1="583.25" x2="292.04" y2="583.25" stroke="#000" stroke-width="1.15" />
<line x1="281.64" y1="589.25" x2="292.04" y2="589.25" stroke="#000" stroke-width="1.15" />
<line x1="310.92" y1="584.50" x2="310.92" y2="590.50" stroke="#000" stroke-width="1.15" />
<line x1="305.72" y1="584.50" x2="316.12" y2="584.50" stroke="#000" stroke-width="1.15" />
<line x1="305.72" y1="590.50" x2="316.12" y2="590.50" stroke="#000" stroke-width="1.15" />
<line x1="335.00" y1="569.70" x2="335.00" y2="573.70" stroke="#000" stroke-width="1.15" />
<line x1="329.80" y1="569.70" x2="340.20" y2="569.70" stroke="#000" stroke-width="1.15" />
<line x1="329.80" y1="573.70" x2="340.20" y2="573.70" stroke="#000" stroke-width="1.15" />
<line x1="366.84" y1="565.50" x2="366.84" y2="569.50" stroke="#000" stroke-width="1.15" />
<line x1="361.64" y1="565.50" x2="372.04" y2="565.50" stroke="#000" stroke-width="1.15" />
<line x1="361.64" y1="569.50" x2="372.04" y2="569.50" stroke="#000" stroke-width="1.15" />
<line x1="390.92" y1="566.60" x2="390.92" y2="570.60" stroke="#000" stroke-width="1.15" />
<line x1="385.72" y1="566.60" x2="396.12" y2="566.60" stroke="#000" stroke-width="1.15" />
<line x1="385.72" y1="570.60" x2="396.12" y2="570.60" stroke="#000" stroke-width="1.15" />
<line x1="415.00" y1="577.00" x2="415.00" y2="583.00" stroke="#000" stroke-width="1.15" />
<line x1="409.80" y1="577.00" x2="420.20" y2="577.00" stroke="#000" stroke-width="1.15" />
<line x1="409.80" y1="583.00" x2="420.20" y2="583.00" stroke="#000" stroke-width="1.15" />
<line x1="446.84" y1="578.50" x2="446.84" y2="586.50" stroke="#000" stroke-width="1.15" />
<line x1="441.64" y1="578.50" x2="452.04" y2="578.50" stroke="#000" stroke-width="1.15" />
<line x1="441.64" y1="586.50" x2="452.04" y2="586.50" stroke="#000" stroke-width="1.15" />
<line x1="470.92" y1="624.00" x2="470.92" y2="630.00" stroke="#000" stroke-width="1.15" />
<line x1="465.72" y1="624.00" x2="476.12" y2="624.00" stroke="#000" stroke-width="1.15" />
<line x1="465.72" y1="630.00" x2="476.12" y2="630.00" stroke="#000" stroke-width="1.15" />
<line x1="495.00" y1="644.25" x2="495.00" y2="648.25" stroke="#000" stroke-width="1.15" />
<line x1="489.80" y1="644.25" x2="500.20" y2="644.25" stroke="#000" stroke-width="1.15" />
<line x1="489.80" y1="648.25" x2="500.20" y2="648.25" stroke="#000" stroke-width="1.15" />
<polygon points="107.30,403.20 114.70,403.20 111.00,396.00" fill="#000"/>
<polygon points="129.80,603.80 137.20,603.80 133.50,596.60" fill="#000"/>
<polygon points="203.14,584.50 210.54,584.50 206.84,577.30" fill="#000"/>
<polygon points="227.22,590.50 234.62,590.50 230.92,583.30" fill="#000"/>
<polygon points="251.30,594.25 258.70,594.25 255.00,587.05" fill="#000"/>
<polygon points="283.14,589.25 290.54,589.25 286.84,582.05" fill="#000"/>
<polygon points="307.22,590.50 314.62,590.50 310.92,583.30" fill="#000"/>
<polygon points="331.30,574.70 338.70,574.70 335.00,567.50" fill="#000"/>
<polygon points="363.14,570.50 370.54,570.50 366.84,563.30" fill="#000"/>
<polygon points="387.22,571.60 394.62,571.60 390.92,564.40" fill="#000"/>
<polygon points="411.30,583.00 418.70,583.00 415.00,575.80" fill="#000"/>
<polygon points="443.14,585.50 450.54,585.50 446.84,578.30" fill="#000"/>
<polygon points="467.22,630.00 474.62,630.00 470.92,622.80" fill="#000"/>
<polygon points="491.30,649.25 498.70,649.25 495.00,642.05" fill="#000"/>
<line x1="111.00" y1="404.70" x2="133.50" y2="588.50" stroke="#000" stroke-width="1.5" />
<line x1="133.50" y1="588.50" x2="153.80" y2="583.00" stroke="#000" stroke-width="1.5" />
<line x1="162.50" y1="581.60" x2="206.84" y2="572.30" stroke="#000" stroke-width="1.5" />
<line x1="206.84" y1="572.30" x2="230.92" y2="566.00" stroke="#000" stroke-width="1.5" />
<line x1="230.92" y1="566.00" x2="255.00" y2="564.20" stroke="#000" stroke-width="1.5" />
<line x1="255.00" y1="564.20" x2="286.84" y2="581.25" stroke="#000" stroke-width="1.5" />
<line x1="286.84" y1="581.25" x2="310.92" y2="581.00" stroke="#000" stroke-width="1.5" />
<line x1="310.92" y1="581.00" x2="335.00" y2="576.50" stroke="#000" stroke-width="1.5" />
<line x1="335.00" y1="576.50" x2="366.84" y2="585.50" stroke="#000" stroke-width="1.5" />
<line x1="366.84" y1="585.50" x2="390.92" y2="587.50" stroke="#000" stroke-width="1.5" />
<line x1="390.92" y1="587.50" x2="415.00" y2="597.30" stroke="#000" stroke-width="1.5" />
<line x1="415.00" y1="597.30" x2="446.84" y2="647.50" stroke="#000" stroke-width="1.5" />
<line x1="452.34" y1="647.50" x2="465.42" y2="647.50" stroke="#000" stroke-width="1.5" />
<line x1="476.42" y1="647.50" x2="489.50" y2="647.50" stroke="#000" stroke-width="1.5" />
<line x1="111.00" y1="401.90" x2="111.00" y2="407.50" stroke="#000" stroke-width="1.15" />
<line x1="105.80" y1="401.90" x2="116.20" y2="401.90" stroke="#000" stroke-width="1.15" />
<line x1="105.80" y1="407.50" x2="116.20" y2="407.50" stroke="#000" stroke-width="1.15" />
<line x1="133.50" y1="582.50" x2="133.50" y2="594.50" stroke="#000" stroke-width="1.15" />
<line x1="128.30" y1="582.50" x2="138.70" y2="582.50" stroke="#000" stroke-width="1.15" />
<line x1="128.30" y1="594.50" x2="138.70" y2="594.50" stroke="#000" stroke-width="1.15" />
<line x1="206.84" y1="570.30" x2="206.84" y2="574.30" stroke="#000" stroke-width="1.15" />
<line x1="201.64" y1="570.30" x2="212.04" y2="570.30" stroke="#000" stroke-width="1.15" />
<line x1="201.64" y1="574.30" x2="212.04" y2="574.30" stroke="#000" stroke-width="1.15" />
<line x1="230.92" y1="564.00" x2="230.92" y2="568.00" stroke="#000" stroke-width="1.15" />
<line x1="225.72" y1="564.00" x2="236.12" y2="564.00" stroke="#000" stroke-width="1.15" />
<line x1="225.72" y1="568.00" x2="236.12" y2="568.00" stroke="#000" stroke-width="1.15" />
<line x1="255.00" y1="559.60" x2="255.00" y2="568.80" stroke="#000" stroke-width="1.15" />
<line x1="249.80" y1="559.60" x2="260.20" y2="559.60" stroke="#000" stroke-width="1.15" />
<line x1="249.80" y1="568.80" x2="260.20" y2="568.80" stroke="#000" stroke-width="1.15" />
<line x1="286.84" y1="578.25" x2="286.84" y2="584.25" stroke="#000" stroke-width="1.15" />
<line x1="281.64" y1="578.25" x2="292.04" y2="578.25" stroke="#000" stroke-width="1.15" />
<line x1="281.64" y1="584.25" x2="292.04" y2="584.25" stroke="#000" stroke-width="1.15" />
<line x1="310.92" y1="575.00" x2="310.92" y2="587.00" stroke="#000" stroke-width="1.15" />
<line x1="305.72" y1="575.00" x2="316.12" y2="575.00" stroke="#000" stroke-width="1.15" />
<line x1="305.72" y1="587.00" x2="316.12" y2="587.00" stroke="#000" stroke-width="1.15" />
<line x1="335.00" y1="573.50" x2="335.00" y2="579.50" stroke="#000" stroke-width="1.15" />
<line x1="329.80" y1="573.50" x2="340.20" y2="573.50" stroke="#000" stroke-width="1.15" />
<line x1="329.80" y1="579.50" x2="340.20" y2="579.50" stroke="#000" stroke-width="1.15" />
<line x1="366.84" y1="583.50" x2="366.84" y2="587.50" stroke="#000" stroke-width="1.15" />
<line x1="361.64" y1="583.50" x2="372.04" y2="583.50" stroke="#000" stroke-width="1.15" />
<line x1="361.64" y1="587.50" x2="372.04" y2="587.50" stroke="#000" stroke-width="1.15" />
<line x1="390.92" y1="585.50" x2="390.92" y2="589.50" stroke="#000" stroke-width="1.15" />
<line x1="385.72" y1="585.50" x2="396.12" y2="585.50" stroke="#000" stroke-width="1.15" />
<line x1="385.72" y1="589.50" x2="396.12" y2="589.50" stroke="#000" stroke-width="1.15" />
<line x1="415.00" y1="594.30" x2="415.00" y2="600.30" stroke="#000" stroke-width="1.15" />
<line x1="409.80" y1="594.30" x2="420.20" y2="594.30" stroke="#000" stroke-width="1.15" />
<line x1="409.80" y1="600.30" x2="420.20" y2="600.30" stroke="#000" stroke-width="1.15" />
<polygon points="107.70,402.00 114.30,402.00 111.00,408.30" fill="#fff" stroke="#000" stroke-width="1.2"/>
<polygon points="130.20,585.80 136.80,585.80 133.50,592.10" fill="#fff" stroke="#000" stroke-width="1.2"/>
<polygon points="203.54,569.60 210.14,569.60 206.84,575.90" fill="#fff" stroke="#000" stroke-width="1.2"/>
<polygon points="227.62,563.30 234.22,563.30 230.92,569.60" fill="#fff" stroke="#000" stroke-width="1.2"/>
<polygon points="251.70,561.50 258.30,561.50 255.00,567.80" fill="#fff" stroke="#000" stroke-width="1.2"/>
<polygon points="283.54,578.55 290.14,578.55 286.84,584.85" fill="#fff" stroke="#000" stroke-width="1.2"/>
<polygon points="307.62,578.30 314.22,578.30 310.92,584.60" fill="#fff" stroke="#000" stroke-width="1.2"/>
<polygon points="331.70,573.80 338.30,573.80 335.00,580.10" fill="#fff" stroke="#000" stroke-width="1.2"/>
<polygon points="363.54,582.80 370.14,582.80 366.84,589.10" fill="#fff" stroke="#000" stroke-width="1.2"/>
<polygon points="387.62,584.80 394.22,584.80 390.92,591.10" fill="#fff" stroke="#000" stroke-width="1.2"/>
<polygon points="411.70,594.60 418.30,594.60 415.00,600.90" fill="#fff" stroke="#000" stroke-width="1.2"/>
<polygon points="443.54,644.80 450.14,644.80 446.84,651.10" fill="#fff" stroke="#000" stroke-width="1.2"/>
<polygon points="467.62,644.80 474.22,644.80 470.92,651.10" fill="#fff" stroke="#000" stroke-width="1.2"/>
<polygon points="491.70,644.80 498.30,644.80 495.00,651.10" fill="#fff" stroke="#000" stroke-width="1.2"/>
<line x1="310.40" y1="404.00" x2="321.60" y2="404.00" stroke="#000" stroke-width="1.4" />
<line x1="330.40" y1="404.00" x2="341.60" y2="404.00" stroke="#000" stroke-width="1.4" />
<rect x="323.30" y="401.30" width="5.4" height="5.4" fill="#000"/>
<text x="346.70" y="409.00" font-size="14" text-anchor="start" >Homocysteine</text>
<line x1="310.40" y1="421.40" x2="321.60" y2="421.40" stroke="#000" stroke-width="1.4" />
<line x1="330.40" y1="421.40" x2="341.60" y2="421.40" stroke="#000" stroke-width="1.4" />
<circle cx="326.00" cy="421.40" r="2.2" fill="#fff" stroke="#000" stroke-width="1.2"/>
<text x="346.70" y="426.40" font-size="14" text-anchor="start" >Cysteine</text>
<line x1="310.40" y1="438.80" x2="321.60" y2="438.80" stroke="#000" stroke-width="1.4" />
<line x1="330.40" y1="438.80" x2="341.60" y2="438.80" stroke="#000" stroke-width="1.4" />
<polygon points="322.50,441.60 329.50,441.60 326.00,435.00" fill="#000"/>
<text x="346.70" y="443.80" font-size="14" text-anchor="start" >2-Mercaptoethanol</text>
<line x1="310.40" y1="456.40" x2="321.60" y2="456.40" stroke="#000" stroke-width="1.4" />
<line x1="330.40" y1="456.40" x2="341.60" y2="456.40" stroke="#000" stroke-width="1.4" />
<polygon points="323.00,454.00 329.00,454.00 326.00,459.60" fill="#fff" stroke="#000" stroke-width="1.1"/>
<text x="346.70" y="461.40" font-size="14" text-anchor="start" >Dithiothreitol</text>
</svg>
</body></html>
